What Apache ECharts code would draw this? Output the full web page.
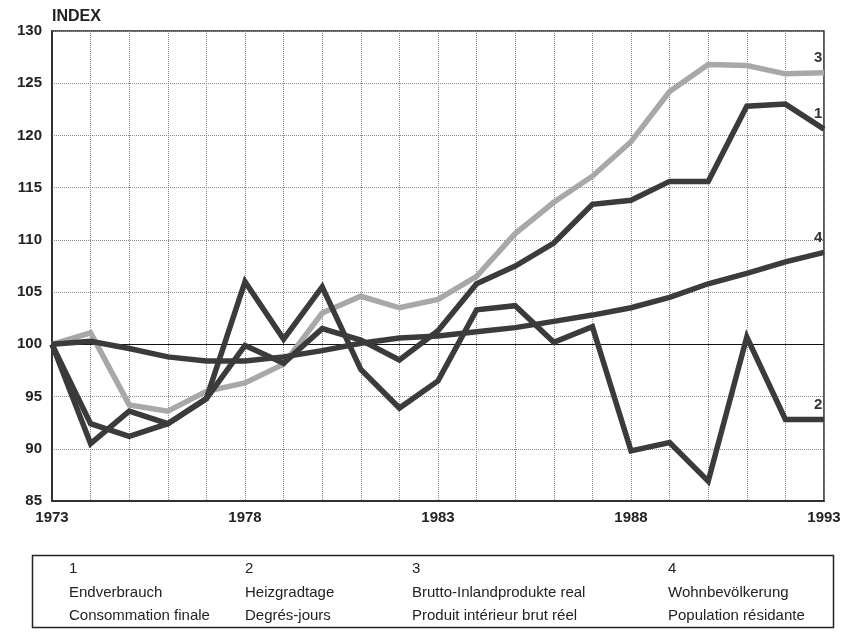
<!DOCTYPE html>
<html><head><meta charset="utf-8">
<script src="https://cdn.jsdelivr.net/npm/echarts@6/dist/echarts.min.js"></script>
<style>html,body{margin:0;padding:0;background:#fff}#c{width:859px;height:633px}</style>
</head><body><div id="c"></div>
<script>
const years = [1973,1974,1975,1976,1977,1978,1979,1980,1981,1982,1983,1984,1985,1986,1987,1988,1989,1990,1991,1992,1993];
const endverbrauch = [100,92.4,91.2,92.4,94.8,99.9,98.2,101.5,100.4,98.5,101.3,105.8,107.5,109.7,113.4,113.8,115.6,115.6,122.8,123.0,120.6];
const heizgradtage = [100,90.5,93.6,92.4,94.8,106.0,100.5,105.5,97.6,93.9,96.5,103.3,103.7,100.2,101.7,89.8,90.6,86.9,100.7,92.8,92.8];
const bip = [100,101.1,94.2,93.6,95.5,96.3,98.1,103.0,104.6,103.5,104.3,106.5,110.6,113.6,116.1,119.4,124.2,126.8,126.7,125.9,126.0];
const bevoelkerung = [100,100.3,99.6,98.8,98.4,98.4,98.8,99.4,100.1,100.6,100.8,101.2,101.6,102.2,102.8,103.5,104.5,105.8,106.8,107.9,108.8];
const seriesNums = ['1','2','3','4'];
const legendDe = ['Endverbrauch','Heizgradtage','Brutto-Inlandprodukte real','Wohnbevölkerung'];
const legendFr = ['Consommation finale','Degrés-jours','Produit intérieur brut réel','Population résidante'];
const yTicks = [85,90,95,100,105,110,115,120,125,130];
const xTickLabels = [1973,1978,1983,1988,1993];

const dark = '#3b3b3b', grey = '#a8a8a8';
function line(name, vals, color, num, z){
  return {name, type:'line', data:years.map((y,i)=>[y, vals[i]]), symbol:'none', showSymbol:false,
    lineStyle:{color, width:5.5, join:'miter'}, itemStyle:{color}, z, animation:false,
    endLabel:{show:true, formatter:num, offset:[-18,-15], fontFamily:'Liberation Sans, Arial',
      fontWeight:'bold', fontSize:15, color:'#333'}};
}
const chart = echarts.init(document.getElementById('c'), null, {renderer:'canvas'});
const lf = 'Liberation Sans Narrow, Arial Narrow, Liberation Sans';
const colX = [69,245,412,668];
const graphics = [
  {type:'rect', shape:{x:32.5,y:555.5,width:801,height:72}, style:{fill:'none', stroke:'#222', lineWidth:1.5}},
  {type:'text', left:52, top:9, style:{text:'INDEX', font:'bold 16px Liberation Sans, Arial', fill:'#222'}}
];
for(let i=0;i<4;i++){
  graphics.push({type:'text', x:colX[i], y:561, style:{text:seriesNums[i], font:'15px '+lf, fill:'#222'}});
  graphics.push({type:'text', x:colX[i], y:585, style:{text:legendDe[i], font:'15px '+lf, fill:'#222'}});
  graphics.push({type:'text', x:colX[i], y:608, style:{text:legendFr[i], font:'15px '+lf, fill:'#222'}});
}
chart.setOption({
  backgroundColor:'#fff',
  animation:false,
  grid:{left:52, right:35, top:31, bottom:132, show:true, borderColor:'#222', borderWidth:1.5},
  xAxis:{type:'value', min:1973, max:1993, interval:1,
    axisLine:{show:true, lineStyle:{color:'#222', width:1.5}},
    axisTick:{show:false},
    splitLine:{show:true, lineStyle:{color:'#888', type:'dotted', width:1}},
    axisLabel:{margin:9, fontFamily:'Liberation Sans, Arial', fontWeight:'bold', fontSize:15, color:'#222',
      formatter:v=> xTickLabels.indexOf(v)>=0 ? String(v) : ''}},
  yAxis:{type:'value', min:85, max:130, interval:5,
    axisLine:{show:true, lineStyle:{color:'#222', width:1.5}},
    axisTick:{show:false},
    splitLine:{show:true, lineStyle:{color:'#888', type:'dotted', width:1}},
    axisLabel:{margin:10, fontFamily:'Liberation Sans, Arial', fontWeight:'bold', fontSize:15, color:'#222',
      formatter:v=> yTicks.indexOf(v)>=0 ? String(v) : ''}},
  graphic:graphics,
  series:[
    Object.assign(line('BIP', bip, grey, '3', 2), {markLine:{silent:true, symbol:'none', label:{show:false},
      lineStyle:{color:'#111', width:1.2, type:'solid'}, data:[{yAxis:100}], z:1}}),
    line('Wohnbevölkerung', bevoelkerung, dark, '4', 3),
    line('Heizgradtage', heizgradtage, dark, '2', 4),
    line('Endverbrauch', endverbrauch, dark, '1', 5)
  ]
});
</script></body></html>
